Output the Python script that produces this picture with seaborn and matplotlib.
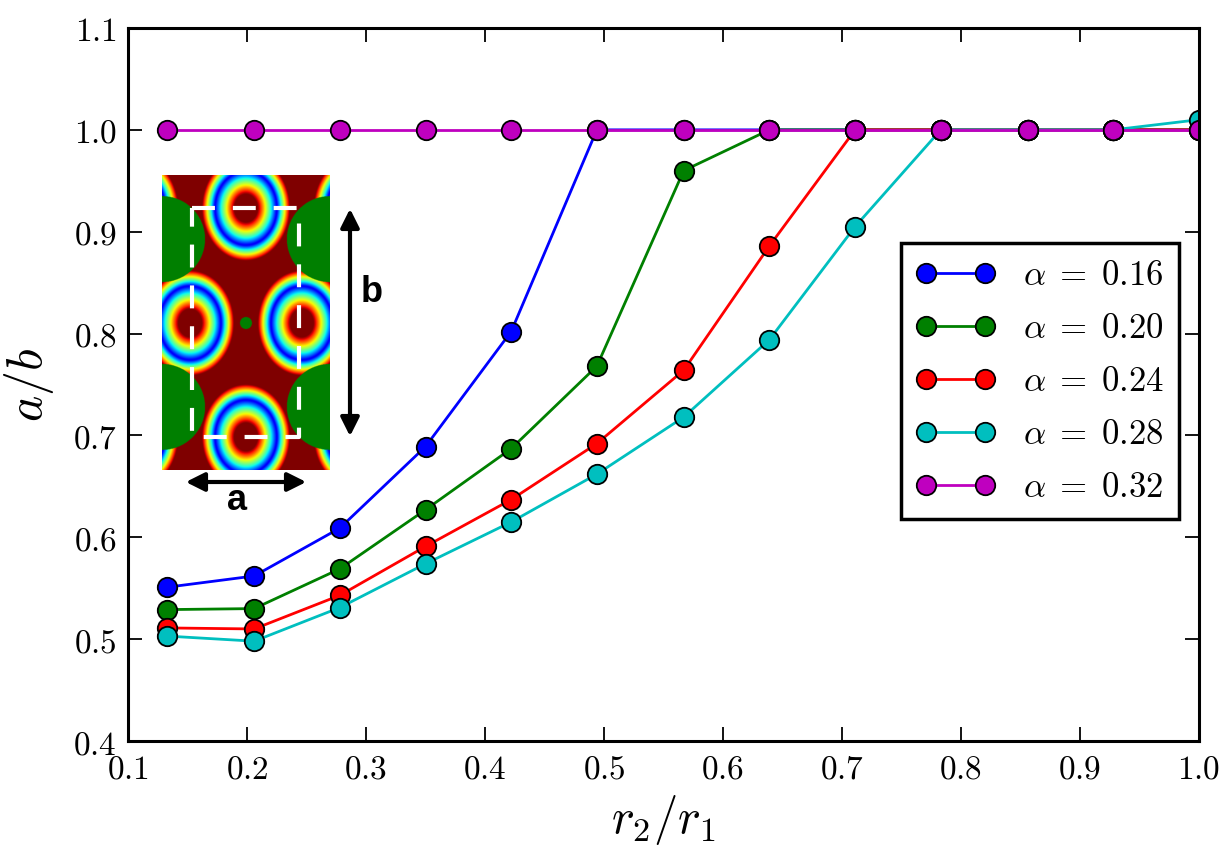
import numpy as np
import pandas as pd
import matplotlib
matplotlib.use("Agg")
import matplotlib.pyplot as plt
import seaborn as sns
from matplotlib.ticker import FuncFormatter, MultipleLocator

# ---------------- data ----------------
r_ratio = [0.133, 0.206, 0.278, 0.350, 0.422, 0.494, 0.567, 0.639, 0.711, 0.783, 0.856, 0.928, 1.000]
ab_016 = [0.551, 0.562, 0.609, 0.689, 0.802, 1.000, 1.000, 1.000, 1.000, 1.000, 1.000, 1.000, 1.000]
ab_020 = [0.529, 0.530, 0.569, 0.627, 0.687, 0.768, 0.960, 1.000, 1.000, 1.000, 1.000, 1.000, 1.000]
ab_024 = [0.511, 0.510, 0.543, 0.591, 0.637, 0.692, 0.764, 0.886, 1.000, 1.000, 1.000, 1.000, 1.000]
ab_028 = [0.503, 0.498, 0.531, 0.574, 0.615, 0.662, 0.718, 0.794, 0.905, 1.000, 1.000, 1.000, 1.010]
ab_032 = [1.000, 1.000, 1.000, 1.000, 1.000, 1.000, 1.000, 1.000, 1.000, 1.000, 1.000, 1.000, 1.000]
alpha_values = ["0.16", "0.20", "0.24", "0.28", "0.32"]
series = [ab_016, ab_020, ab_024, ab_028, ab_032]
colors = ["#0000ff", "#008000", "#ff0000", "#00bfbf", "#bf00bf"]

rows = []
for a, vals in zip(alpha_values, series):
    for x, y in zip(r_ratio, vals):
        rows.append({"r": x, "ab": y, "alpha": a})
df = pd.DataFrame(rows)

# ---------------- style ----------------
plt.rcParams["mathtext.fontset"] = "cm"
plt.rcParams["font.family"] = ["DejaVu Sans"]
plt.rcParams["axes.linewidth"] = 2.2

W, H = 1226, 855
fig = plt.figure(figsize=(W / 100, H / 100), dpi=100)
ax = fig.add_axes([128 / W, 1 - 741 / H, (1199 - 128) / W, (741 - 28) / H])

sns.lineplot(data=df, x="r", y="ab", hue="alpha", hue_order=alpha_values,
             palette=dict(zip(alpha_values, colors)), marker="o", markersize=14,
             markeredgecolor="k", markeredgewidth=1.3, linewidth=2.0,
             legend=False, ax=ax, sort=False)

ax.set_xlim(0.1, 1.0)
ax.set_ylim(0.4, 1.1)
ax.xaxis.set_major_locator(MultipleLocator(0.1))
ax.yaxis.set_major_locator(MultipleLocator(0.1))
fmt = FuncFormatter(lambda v, p: r"$%.1f$" % v)
ax.xaxis.set_major_formatter(fmt)
ax.yaxis.set_major_formatter(fmt)
ax.tick_params(direction="in", length=10, width=1.3, labelsize=24, top=True, right=True, pad=8)
ax.set_xlabel(r"$r_2/r_1$", fontsize=35, labelpad=6)
ax.set_ylabel(r"$a/b$", fontsize=36, labelpad=12)

leg = ax.legend(handles=ax.lines[:5], labels=[r"$\alpha\;=\;%s$" % a for a in alpha_values],
                loc="upper right", bbox_to_anchor=(0.981, 0.698), borderaxespad=0,
                fontsize=25, numpoints=2, handlelength=2.3, handletextpad=0.8,
                borderpad=0.42, labelspacing=0.55, fancybox=False, framealpha=1,
                edgecolor="k")
leg.get_frame().set_linewidth(2.5)

# ---------------- inset illustration ----------------
iw, ih = 168, 295
ix = fig.add_axes([162 / W, 1 - 470 / H, iw / W, ih / H])
sc = 3
xx, yy = np.meshgrid(np.linspace(0, iw, iw * sc), np.linspace(0, ih, ih * sc))
ring_centers = [(84, 33), (28, 148), (140, 148), (84, 262),
                (-28, 33), (196, 33), (-28, 262), (196, 262)]
val = np.ones_like(xx)
for cx, cy in ring_centers:
    d = np.sqrt(((xx - cx) / 31.0) ** 2 + ((yy - cy) / 37.0) ** 2)
    inner = np.clip((1.0 - d) / 0.62, 0, 1)
    outer = np.clip((d - 1.0) / 0.42, 0, 1)
    v = 0.1 + 0.9 * np.where(d < 1.0, inner, outer)
    val = np.minimum(val, v)
rgb = plt.get_cmap("jet")(val)[..., :3]
green = np.array([0.0, 0.5, 0.0])
for cx, cy, rr in [(0, 64, 43), (168, 64, 43), (0, 232, 43), (168, 232, 43), (84, 148, 6)]:
    m = (xx - cx) ** 2 + (yy - cy) ** 2 <= rr ** 2
    rgb[m] = green
ix.imshow(rgb, extent=(0, iw, ih, 0), aspect="auto", interpolation="bilinear")
rect_x = [30, 137, 137, 30, 30]
rect_y = [33, 33, 262, 262, 33]
ix.plot(rect_x, rect_y, color="white", lw=3.0, linestyle=(0, (5.5, 4.3)))
ix.set_xlim(0, iw)
ix.set_ylim(ih, 0)
ix.axis("off")

def fp(x, y):
    return (x / W, 1 - y / H)

fig.add_artist(matplotlib.patches.FancyArrowPatch(fp(350, 206), fp(350, 439), transform=fig.transFigure,
               arrowstyle="<|-|>", mutation_scale=28, lw=3.0, color="k"))
fig.add_artist(matplotlib.patches.FancyArrowPatch(fp(183, 482), fp(309, 482), transform=fig.transFigure,
               arrowstyle="<|-|>", mutation_scale=28, lw=3.0, color="k"))
fig.text(*fp(372, 292), "b", fontsize=26, fontweight="bold", family="Liberation Sans",
         ha="center", va="center")
fig.text(*fp(237, 500), "a", fontsize=26, fontweight="bold", family="Liberation Sans",
         ha="center", va="center")

fig.savefig("out.png", dpi=100)
